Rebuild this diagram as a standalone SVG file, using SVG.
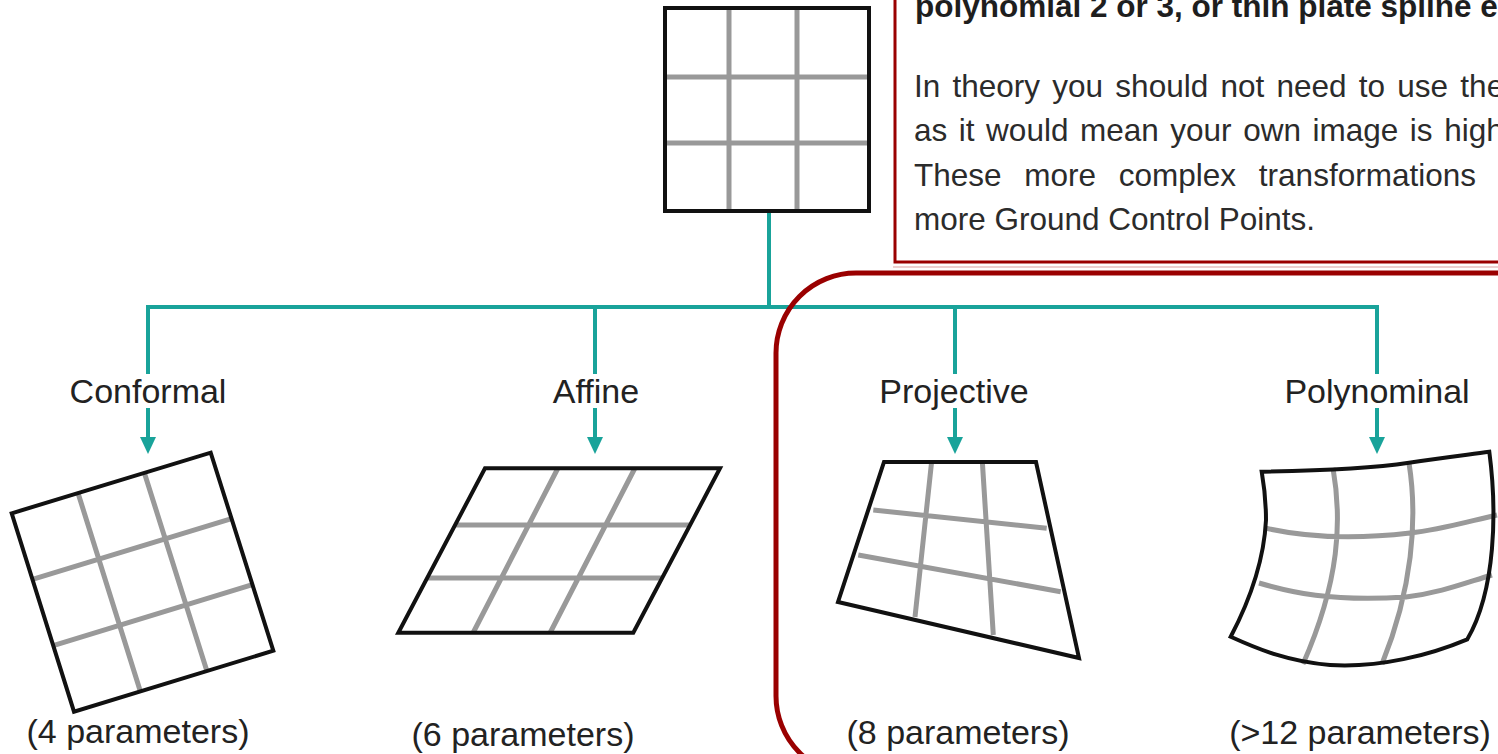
<svg xmlns="http://www.w3.org/2000/svg" width="1498" height="754" viewBox="0 0 1498 754">
<style>
.lbl{font-family:"Liberation Sans",Arial,sans-serif;font-size:34px;fill:#222;text-anchor:middle}
.body{font-family:"Liberation Sans",Arial,sans-serif;font-size:31.5px;fill:#2b2b2b}
.bold{font-weight:bold;fill:#1e1e1e}
.conn{fill:none;stroke:#19a39a;stroke-width:4}
.grid{fill:none;stroke:#999;stroke-width:5}
.frame{fill:none;stroke:#111;stroke-width:4;stroke-linejoin:miter}
.red{fill:none;stroke:#9a0000}
.head{fill:#19a39a}
</style>
<rect width="1498" height="754" fill="#fff"/>

<g id="connectors">
<path class="conn" d="M148,374 V307 H1377 V374"/>
<path class="conn" d="M769,212 V307"/>
<path class="conn" d="M595,307 V374"/>
<path class="conn" d="M955,307 V374"/>
<path class="conn" d="M148,408 V438"/>
<path class="conn" d="M595,408 V438"/>
<path class="conn" d="M955,408 V438"/>
<path class="conn" d="M1377,408 V438"/>
<path class="head" d="M140,437 H156 L148,454 Z"/>
<path class="head" d="M587,437 H603 L595,454 Z"/>
<path class="head" d="M947,437 H963 L955,454 Z"/>
<path class="head" d="M1369,437 H1385 L1377,454 Z"/>
</g>

<g id="source">
<path class="grid" d="M729,6 V212 M797,6 V212 M663,77 H870 M663,143 H870"/>
<rect class="frame" x="665" y="8" width="204" height="203"/>
</g>

<g id="conformal">
<text class="lbl" x="148" y="403">Conformal</text>
<path class="grid" d="M78,493 L140.4,691.4 M144.4,472.9 L206.9,671 M32.5,579.4 L231.6,518.7 M53.2,645.6 L252.4,584.7"/>
<path class="frame" d="M11.7,513.3 L210.7,452.7 L273.3,650.7 L74,711.7 Z"/>
<text class="lbl" x="138" y="743">(4 parameters)</text>
</g>

<g id="affine">
<text class="lbl" x="596" y="403">Affine</text>
<path class="grid" d="M558,468 L473,633 M635,468 L550,633 M455,525 H690 M427,578 H662"/>
<path class="frame" d="M485,468.3 L720,468.3 L633.3,632.7 L398.3,632.7 Z"/>
<text class="lbl" x="523" y="746">(6 parameters)</text>
</g>

<g id="projective">
<text class="lbl" x="954" y="403">Projective</text>
<path class="grid" d="M931.7,461 L915,617 M982.3,461 L993.3,635 M873.3,510 L1046.7,528.3 M858.3,555 L1060.7,591.7"/>
<path class="frame" d="M884,462 L1036,462 L1079,658 L838,602 Z"/>
<text class="lbl" x="958" y="744">(8 parameters)</text>
</g>

<g id="polynominal">
<text class="lbl" x="1377" y="403">Polynominal</text>
<path class="grid" d="M1333,468 C1342,520 1340,580 1303,664 M1409,463 C1418,520 1412,590 1382,664 M1265,528 C1300,536 1350,540 1410,533 C1440,530 1470,521 1497,515 M1259,583 C1290,592 1330,602 1406,597 C1440,593 1465,583 1492,575"/>
<path class="frame" d="M1261.7,471.7 C1300,471 1360,470 1409,462.7 C1440,458 1465,455 1489.3,451.7 C1497,510 1496,590 1467.3,639.3 C1430,655 1380,668 1330,665 C1290,662 1260,650 1230.7,636.7 C1250,600 1264,560 1266,520 C1266,500 1264,485 1261.7,471.7 Z"/>
<text class="lbl" x="1360" y="744">(&gt;12 parameters)</text>
</g>

<g id="note">
<rect x="895" y="-10" width="700" height="272" fill="#fff" class="red" stroke-width="3"/>
<line x1="893" y1="267" x2="1498" y2="267" stroke="#ecd0d0" stroke-width="2"/>
<text class="body bold" x="915" y="17">polynomial 2 or 3, or thin plate spline e</text>
<text class="body" x="914" y="97" word-spacing="3.5">In theory you should not need to use the</text>
<text class="body" x="914" y="141" word-spacing="2.8">as it would mean your own image is high</text>
<text class="body" x="914" y="186" word-spacing="14">These more complex transformations</text>
<text class="body" x="914" y="230">more Ground Control Points.</text>
</g>

<g id="group-frame">
<rect class="red" x="776" y="273" width="820" height="503" rx="80" ry="80" stroke-width="5"/>
</g>
</svg>
